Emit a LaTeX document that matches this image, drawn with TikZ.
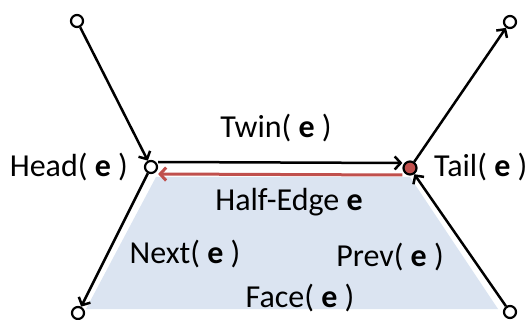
\documentclass[tikz,border=0pt]{standalone}
\usepackage{fontspec}
\setmainfont{Carlito}
\usepackage{tikz}
\usetikzlibrary{arrows.meta,calc}
\definecolor{faceblue}{HTML}{DBE4F1}
\definecolor{edgered}{HTML}{C0504D}
\tikzset{>={Straight Barb[length=6pt,width=13pt]}}
\tikzset{font=\fontsize{32}{38}\selectfont}
\tikzset{vert/.style={circle, draw=black, line width=2.2pt, fill=white,
    inner sep=0pt, minimum size=12pt},
  lbl/.style={inner sep=0pt, anchor=base},
  hedge/.style={->, line width=2.5pt}}
\begin{document}
\begin{tikzpicture}[x=1pt,y=-1pt]
  \useasboundingbox (0,0) rectangle (526,320);
  % the face
  \fill[faceblue] (156,177) -- (410,177) -- (498,309) -- (86,309) -- cycle;
  % vertices
  \node[vert] (tl) at (77,21) {};
  \node[vert] (tr) at (510,22) {};
  \node[vert] (head) at (151,167) {};
  \node[vert, fill=edgered, minimum size=13pt] (tail) at (410,168) {};
  \node[vert] (bl) at (78,313) {};
  \node[vert] (br) at (510,312) {};
  % edges
  \draw[hedge] (tl) -- (head);
  \draw[hedge] (tail) -- (tr);
  \draw[hedge] ([yshift=5pt]head.east) -- ([yshift=5pt]tail.west);
  \draw[hedge, edgered, line width=3pt] ([yshift=-7pt]tail.west) -- ([yshift=-7pt]head.east);
  \draw[hedge] (head) -- (bl);
  \draw[hedge] (br) -- (tail);
  % labels
  \node[lbl] (twin) at (276,138) {Twin( \textbf{e} )};
  \node[lbl] (half) at (289,210) {Half-Edge \textbf{e}};
  \node[lbl] (next) at (185,263) {Next( \textbf{e} )};
  \node[lbl] (prev) at (390,266) {Prev( \textbf{e} )};
  \node[lbl] (face) at (300,307) {Face( \textbf{e} )};
  \node[lbl, anchor=base east] (headl) at (128,176) {Head( \textbf{e} )};
  \node[lbl, anchor=base west] (taill) at (434,176) {Tail( \textbf{e} )};
\end{tikzpicture}
\end{document}
